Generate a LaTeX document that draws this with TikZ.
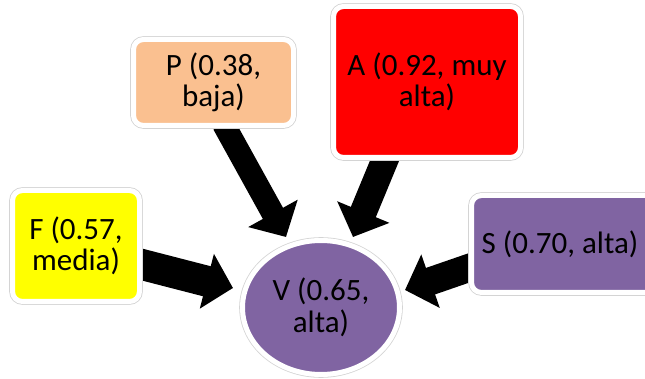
\documentclass[tikz,border=0pt]{standalone}
\usepackage{fontspec}
\setmainfont{Carlito}
\usetikzlibrary{arrows.meta,calc,shapes.geometric}
\definecolor{fyellow}{HTML}{FFFF00}
\definecolor{ppeach}{HTML}{FAC090}
\definecolor{ared}{HTML}{FF0000}
\definecolor{vpurple}{HTML}{8064A2}
\definecolor{rimgray}{HTML}{D4D4D4}
\pgfdeclarelayer{back}
\pgfsetlayers{back,main}
\tikzset{
  card/.style={rectangle, rounded corners=10pt, inner sep=0pt, align=center,
    text=black, font=\fontsize{31}{31.5}\selectfont,
    preaction={draw=rimgray, line width=6.6pt},
    draw=white, line width=5pt},
  bubble/.style={ellipse, inner sep=0pt, align=center,
    text=black, font=\fontsize{31}{31.5}\selectfont,
    preaction={draw=rimgray, line width=6.6pt},
    draw=white, line width=5pt},
  blockarrow/.style={draw=black, line width=#1,
    -{Triangle[length=27pt,width=55pt]}},
}
\begin{document}
\begin{tikzpicture}[x=1pt,y=-1pt]
\useasboundingbox (0,0) rectangle (645,379);
% factor boxes
\node[card, fill=fyellow, minimum width=127pt, minimum height=111pt] (F) at (76,246) {F (0.57,\\media)};
\node[card, fill=ppeach, minimum width=160pt, minimum height=86pt] (P) at (213.5,82.5) {P (0.38,\\baja)};
\node[card, fill=ared, minimum width=187pt, minimum height=151pt] (A) at (427,82) {A (0.92, muy\\alta)};
\node[card, fill=vpurple, minimum width=187pt, minimum height=97pt] (S) at (565,244) {S (0.70, alta)\hspace*{10pt}};
% result
\node[bubble, fill=vpurple, minimum width=157pt, minimum height=134pt] (V) at (321,307.5) {V (0.65,\\alta)};
% block arrows into the result
\begin{pgfonlayer}{back}
\draw[blockarrow=31pt] ($(F.east)+(-4,17.5)$) -- ($(V.center)+(-88,-19.5)$);
\draw[blockarrow=23pt] ($(P.south)+(10,-4)$) -- ($(V.center)+(-35,-70.5)$);
\draw[blockarrow=27pt] ($(A.south)+(-40.5,-4)$) -- ($(V.center)+(32,-70.5)$);
\draw[blockarrow=28pt] ($(S.west)+(4,22.5)$) -- ($(V.center)+(84,-17.5)$);
\end{pgfonlayer}
\end{tikzpicture}
\end{document}
